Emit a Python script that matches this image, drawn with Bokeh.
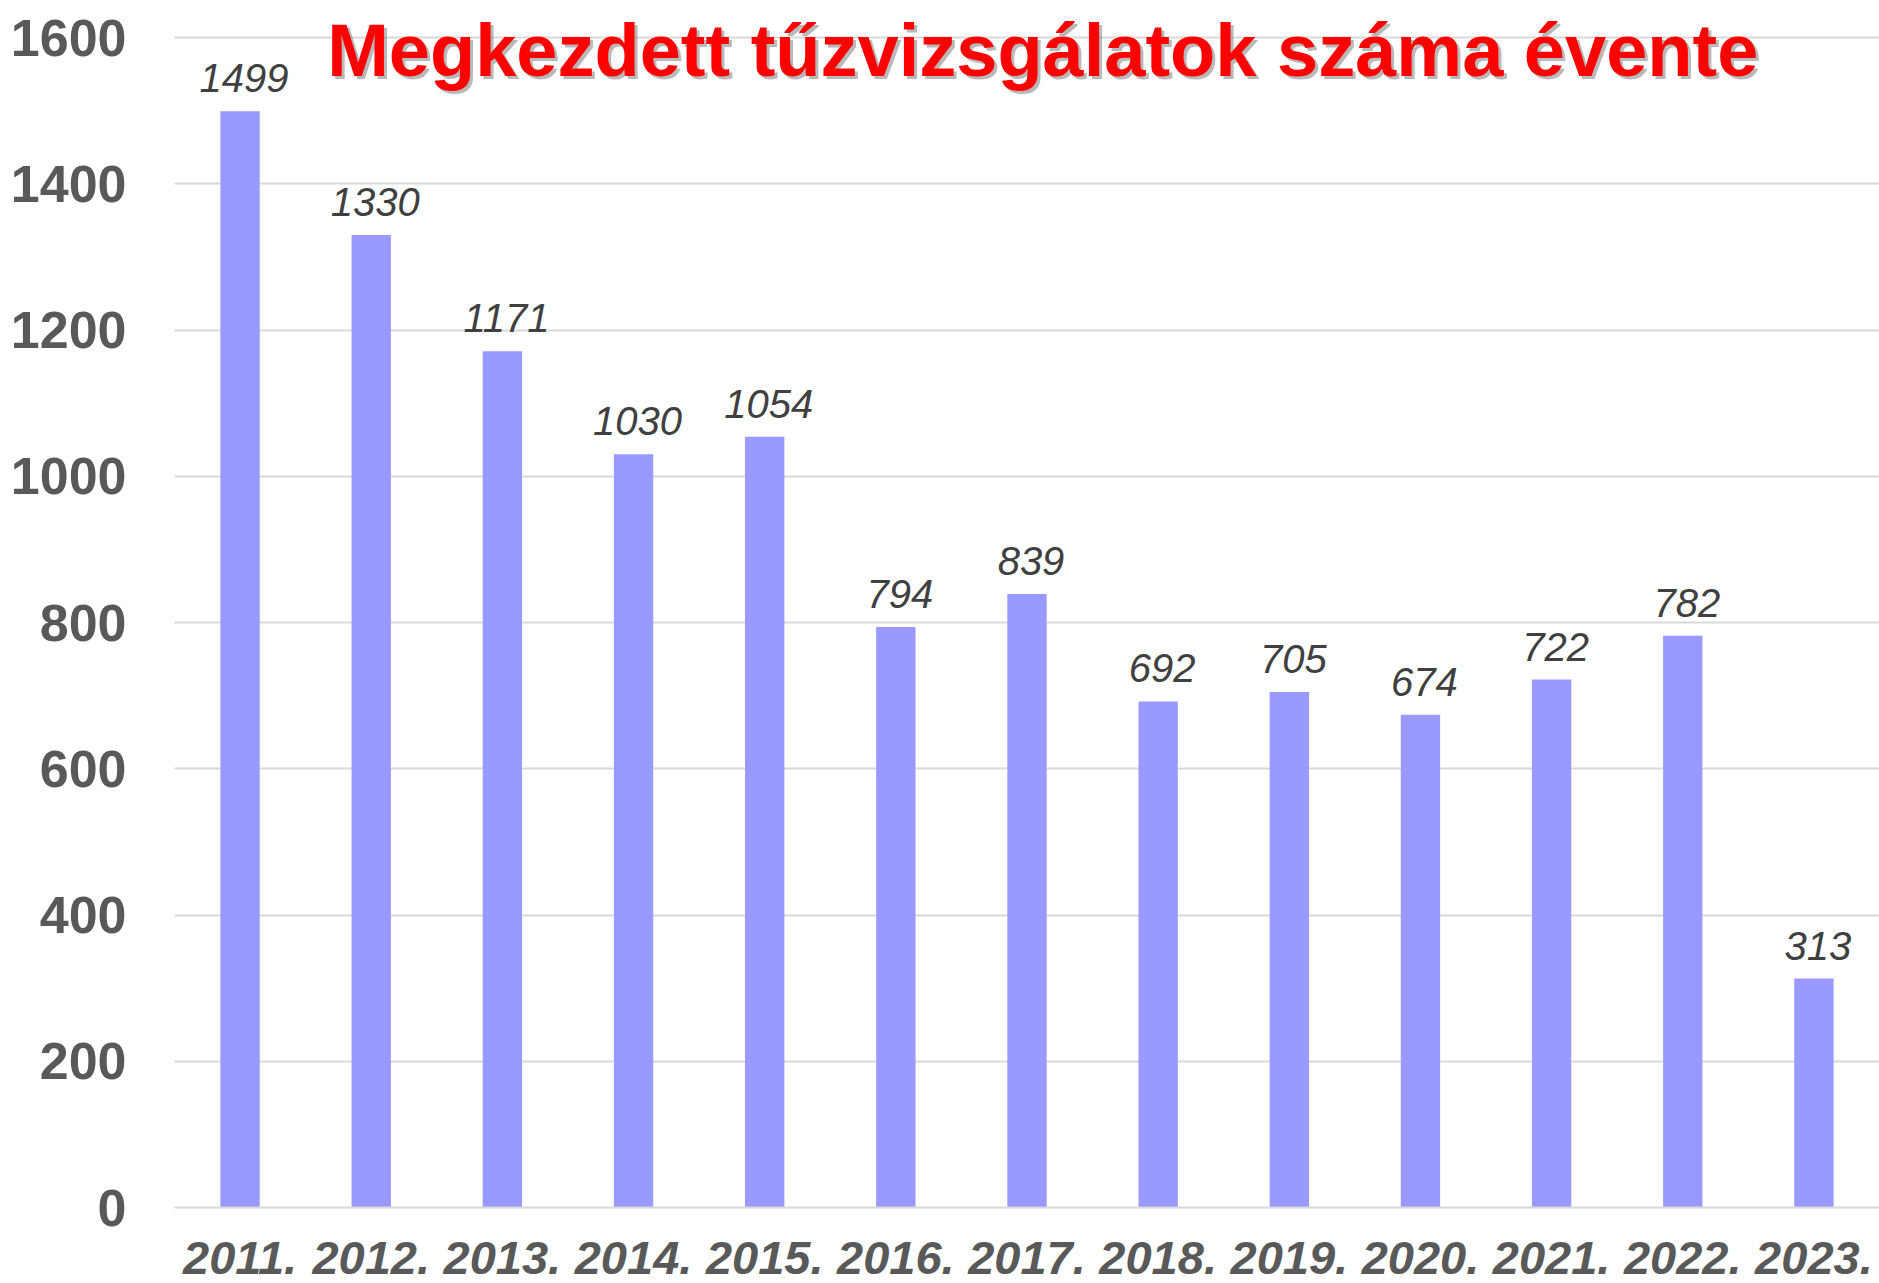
from bokeh.plotting import figure
from bokeh.models import ColumnDataSource, FactorRange, Range1d, FixedTicker, Label
from bokeh.core.properties import value
from bokeh.embed import file_html
from bokeh.resources import INLINE

years = ["2011.", "2012.", "2013.", "2014.", "2015.", "2016.", "2017.",
         "2018.", "2019.", "2020.", "2021.", "2022.", "2023."]
counts = [1499, 1330, 1171, 1030, 1054, 794, 839, 692, 705, 674, 722, 782, 313]
count_labels = [str(c) for c in counts]
y_ticks = [0, 200, 400, 600, 800, 1000, 1200, 1400, 1600]
title_text = "Megkezdett tűzvizsgálatok száma évente"

FONT = "Liberation Sans"

src = ColumnDataSource(dict(year=years, count=counts, label=count_labels))

p = figure(width=1879, height=1283, output_backend="svg", toolbar_location=None,
           x_range=FactorRange(*years, range_padding=0),
           y_range=Range1d(0, 1650.6),
           min_border_left=174, min_border_right=0, min_border_top=0, min_border_bottom=76)
p.outline_line_color = None
p.background_fill_color = "white"
p.border_fill_color = "white"

p.vbar(x="year", top="count", width=0.30, source=src, color="#9999FF", line_color=None)

p.text(x="year", y="count", text="label", source=src, text_align="center",
       text_baseline="alphabetic", y_offset=-33, x_offset=4,
       text_font=value(FONT), text_font_style="italic", text_font_size="40px",
       text_color="#404040")

p.xgrid.grid_line_color = None
p.ygrid.grid_line_color = "#d9d9d9"
p.ygrid.grid_line_width = 2
p.yaxis.ticker = FixedTicker(ticks=y_ticks)
p.yaxis.axis_line_color = None
p.yaxis.major_tick_line_color = None
p.yaxis.minor_tick_line_color = None
p.yaxis.major_label_standoff = 42
p.yaxis.major_label_text_font = FONT
p.yaxis.major_label_text_font_style = "bold"
p.yaxis.major_label_text_font_size = "52px"
p.yaxis.major_label_text_color = "#595959"

p.xaxis.axis_line_color = "#d9d9d9"
p.xaxis.axis_line_width = 2
p.xaxis.major_tick_line_color = None
p.xaxis.minor_tick_line_color = None
p.xaxis.major_label_standoff = 28
p.xaxis.major_label_text_font = FONT
p.xaxis.major_label_text_font_style = "bold italic"
p.xaxis.major_label_text_font_size = "47px"
p.xaxis.major_label_text_color = "#595959"

shadow = Label(x=6.62, y=1582, text=title_text, text_align="center", text_baseline="alphabetic",
               x_offset=3, y_offset=-3, text_font=FONT, text_font_style="bold",
               text_font_size="74px", text_color="#7f7f7f", text_alpha=0.55)
title = Label(x=6.62, y=1582, text=title_text, text_align="center", text_baseline="alphabetic",
              text_font=FONT, text_font_style="bold", text_font_size="74px", text_color="#FF0000")
p.add_layout(shadow)
p.add_layout(title)

open("out.html", "w").write(file_html(p, INLINE))
